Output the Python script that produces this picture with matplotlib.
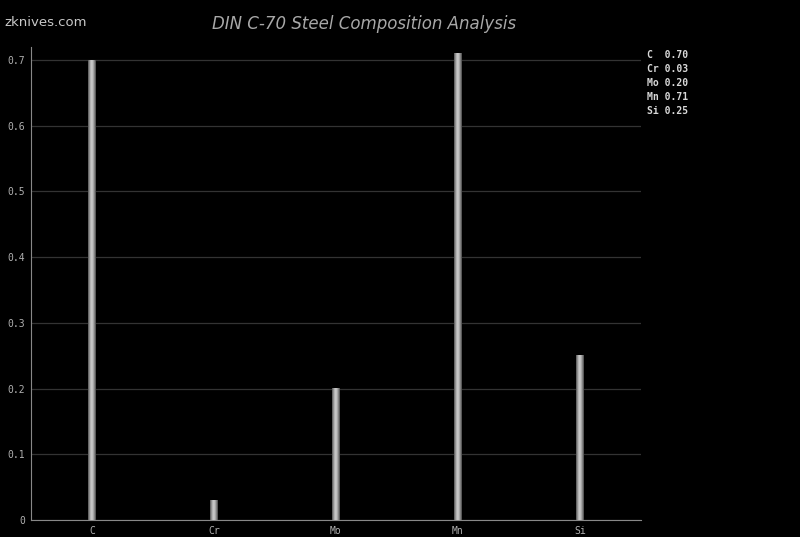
import numpy as np
import matplotlib.pyplot as plt
from matplotlib.ticker import FuncFormatter

elements = ['C', 'Cr', 'Mo', 'Mn', 'Si']
values = [0.70, 0.03, 0.20, 0.71, 0.25]

fig = plt.figure(figsize=(8, 5.37), dpi=100, facecolor='black')
ax = fig.add_axes([0.03875, 0.0317, 0.7625, 0.881])
ax.set_facecolor('black')

x = np.arange(len(elements))
bar_width = 0.065
bars = ax.bar(x, values, bar_width, color='#8a8a8a', edgecolor='none', zorder=3)

# shaded gradient inside each bar
grad = np.array([[0.4, 0.6, 0.75, 0.8, 0.7, 0.55, 0.35]])
for b in bars:
    ax.imshow(grad, cmap='gray', vmin=0, vmax=1, aspect='auto', zorder=4,
              extent=[b.get_x(), b.get_x() + b.get_width(), 0, b.get_height()],
              interpolation='bilinear')

ax.set_xlim(-0.5, len(elements) - 0.5)
ax.set_ylim(0, 0.72)
ax.set_yticks(np.arange(0, 0.71, 0.1))
ax.yaxis.set_major_formatter(FuncFormatter(lambda v, p: '0' if v == 0 else '%.1f' % v))
ax.set_xticks(x)
ax.set_xticklabels(elements)
ax.grid(axis='y', color='#333333', linewidth=0.9, zorder=0)
ax.tick_params(length=0, colors='#b0b0b0', labelsize=7, pad=4)
for lab in ax.get_xticklabels() + ax.get_yticklabels():
    lab.set_family('DejaVu Sans Mono')
for side in ['top', 'right']:
    ax.spines[side].set_visible(False)
for side in ['left', 'bottom']:
    ax.spines[side].set_color('#888888')

fig.text(0.455, 0.955, 'DIN C-70 Steel Composition Analysis', ha='center', va='center',
         color='#a8a8a8', fontsize=12, style='italic')
fig.text(0.006, 0.958, 'zknives.com', ha='left', va='center', color='#c8c8c8', fontsize=9.5,
         family='Liberation Sans Narrow')

legend_lines = ['%-2s %.2f' % (e, v) for e, v in zip(elements, values)]
for i, line in enumerate(legend_lines):
    fig.text(0.809, 0.898 - i * 0.0262, line, ha='left', va='center', color='#d8d8d8',
             fontsize=7, family='DejaVu Sans Mono', weight='bold')

plt.savefig('out.png', facecolor='black')
